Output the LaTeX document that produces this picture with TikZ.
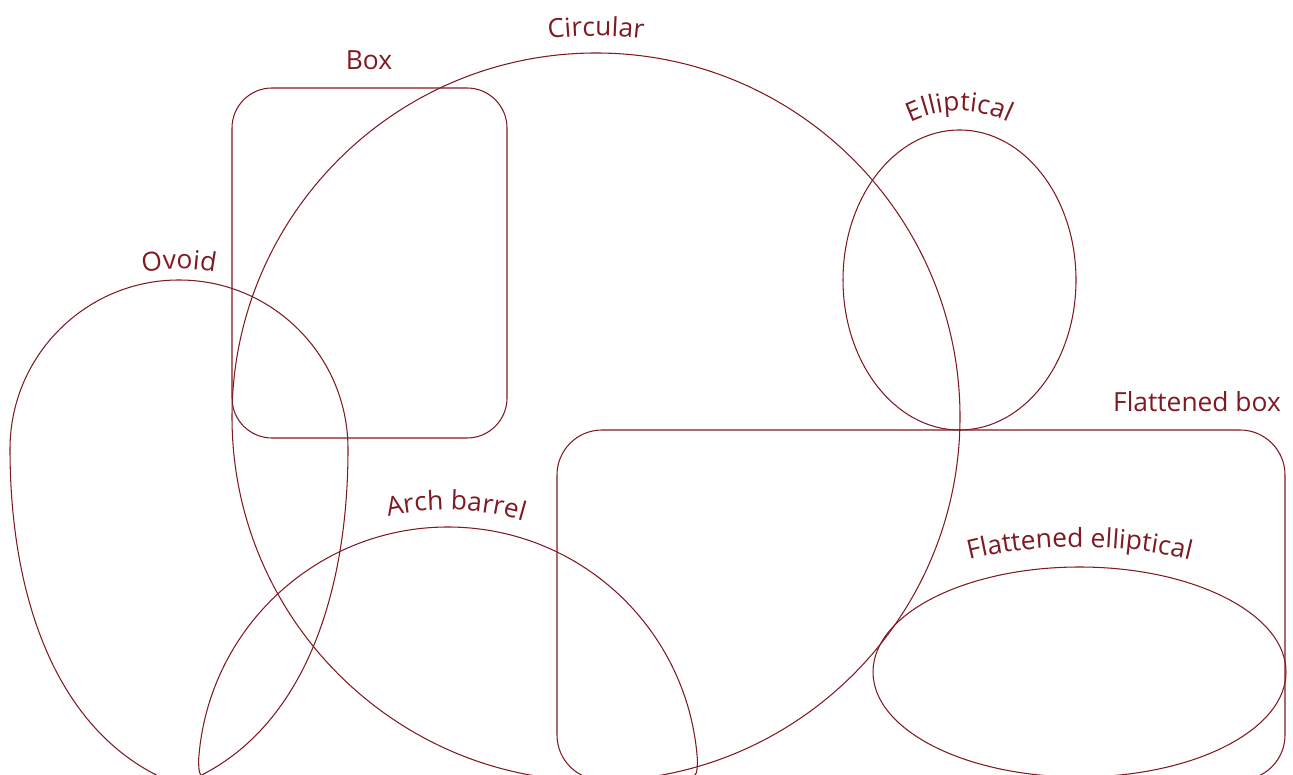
\documentclass[tikz,border=0pt]{standalone}
\usepackage{fontspec}
\setmainfont{Open Sans}
\usetikzlibrary{decorations.text}
\definecolor{tunnel}{HTML}{7F1A22}
\newcommand{\lblfont}{\fontsize{15}{18}\selectfont}
\tikzset{
  outline/.style ={draw=tunnel, line width=0.6pt},
  lbl/.style     ={font=\lblfont, text=tunnel, inner sep=0pt},
  arclbl/.style  ={decorate, decoration={text along path, text align=center,
                   text color=tunnel, text={|\lblfont|#1}}},
}

\begin{document}
\begin{tikzpicture}[x=0.02cm,y=0.02cm]
  \useasboundingbox (0,0) rectangle (1293,774);
  \clip (0,0) rectangle (1293,774);

  % profiles
  \draw[outline] (596,357) circle[radius=364];
  \draw[outline, rounded corners=0.8cm] (232,336) rectangle (507,686);
  \draw[outline] (959.5,494) ellipse[x radius=116.5, y radius=150];
  \draw[outline, rounded corners=0.9cm] (557,-6) rectangle (1285,344);
  \draw[outline] (1079.5,102) ellipse[x radius=206.5, y radius=105];
  \draw[outline] (10,325) arc[start angle=180, end angle=0, radius=169]
    .. controls (348,174) and (300,34) .. (179,-11)
    .. controls (58,34) and (10,174) .. (10,325) -- cycle;
  \draw[outline] (215,-3) .. controls (199,-3) .. (198.6,14)
    arc[start angle=176.1, end angle=3.9, radius=250]
    .. controls (697,-3) .. (681,-3) -- cycle;

  % labels
  \path[arclbl=Circular] (596,357) ++(102:381) arc[start angle=102, end angle=78, radius=381];
  \node[lbl] (boxlbl) at (369,714) {Box};
  \path[arclbl=Ovoid] (179,325) ++(115:180) arc[start angle=115, end angle=65, radius=180];
  \path[arclbl=Elliptical] (959.5,494) ++(-103.4,108.6)
    arc[start angle=140, end angle=40, x radius=135, y radius=169];
  \path[arclbl=Arch barrel] (448,-3) ++(108.3:267) arc[start angle=108.3, end angle=68.3, radius=267];
  \node[lbl] (flatboxlbl) at (1197,372) {Flattened box};
  \path[arclbl=Flattened elliptical] (1079.5,102) ++(-216.5,62.5)
    arc[start angle=150, end angle=30, x radius=250, y radius=125];
\end{tikzpicture}
\end{document}
